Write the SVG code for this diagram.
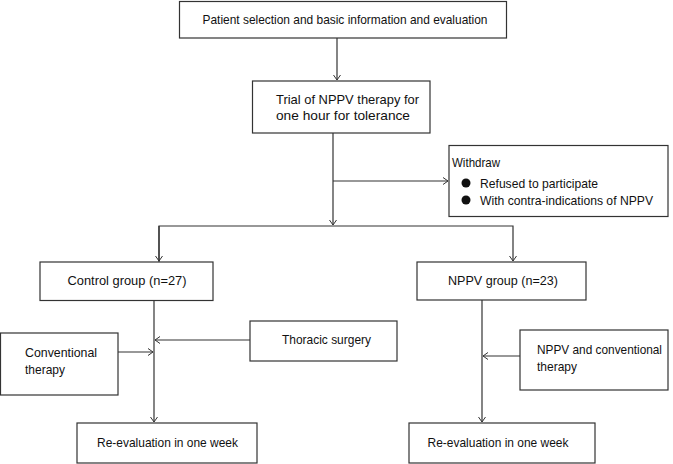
<svg xmlns="http://www.w3.org/2000/svg" width="673" height="464" viewBox="0 0 673 464">
<defs>
<marker id="arr" markerUnits="userSpaceOnUse" markerWidth="10" markerHeight="10" viewBox="-6 -5 8 10" refX="0" refY="0" orient="auto">
<path d="M-5,-3.5 L0,0 L-5,3.5" fill="none" stroke="#333" stroke-width="1"/>
</marker>
</defs>
<style>
rect{fill:#fff;stroke:#333;stroke-width:1.2}
text{font-family:"Liberation Sans",Arial,sans-serif;font-size:13px;fill:#111}
.c{text-anchor:middle}
#connectors path{fill:none;stroke:#333;stroke-width:1.2}
</style>
<rect width="673" height="464" style="stroke:none"/>
<g id="connectors">
<path d="M337,38 V80" marker-end="url(#arr)"/>
<path d="M333,133 V225" marker-end="url(#arr)"/>
<path d="M333,181 H448" marker-end="url(#arr)"/>
<path d="M159,262 V226 H513 V261" marker-end="url(#arr)"/>
<path d="M159,226 V261" marker-end="url(#arr)"/>
<path d="M154,301 V422" marker-end="url(#arr)"/>
<path d="M250,340 H155" marker-end="url(#arr)"/>
<path d="M118,352 H153" marker-end="url(#arr)"/>
<path d="M482,300 V422" marker-end="url(#arr)"/>
<path d="M520,356 H483" marker-end="url(#arr)"/>
</g>
<g id="n1"><rect x="179.5" y="1.5" width="327" height="36.5"/><text class="c" x="345" y="23.5" textLength="285" lengthAdjust="spacingAndGlyphs">Patient selection and basic information and evaluation</text></g>
<g id="n2"><rect x="252.5" y="81" width="177.5" height="52"/><text x="276" y="103.5" textLength="143" lengthAdjust="spacingAndGlyphs">Trial of NPPV therapy for</text><text x="276" y="120" textLength="134" lengthAdjust="spacingAndGlyphs">one hour for tolerance</text></g>
<g id="withdraw"><rect x="449" y="145.5" width="219" height="71"/><text x="452" y="167" textLength="48" lengthAdjust="spacingAndGlyphs">Withdraw</text><circle cx="466" cy="183" r="4.5" fill="#111"/><circle cx="466" cy="200" r="4.5" fill="#111"/><text x="480" y="187.5" textLength="118" lengthAdjust="spacingAndGlyphs">Refused to participate</text><text x="480" y="204.5" textLength="173" lengthAdjust="spacingAndGlyphs">With contra-indications of NPPV</text></g>
<g id="control"><rect x="40" y="262" width="173" height="38.5"/><text class="c" x="127" y="285" textLength="119" lengthAdjust="spacingAndGlyphs">Control group (n=27)</text></g>
<g id="nppv"><rect x="417" y="262" width="169" height="38"/><text class="c" x="503" y="285" textLength="110" lengthAdjust="spacingAndGlyphs">NPPV group (n=23)</text></g>
<g id="thoracic"><rect x="250" y="321" width="147" height="40"/><text class="c" x="326.5" y="344" textLength="89" lengthAdjust="spacingAndGlyphs">Thoracic surgery</text></g>
<g id="conventional"><rect x="0.5" y="333" width="117.5" height="62"/><text x="25" y="356.5" textLength="72" lengthAdjust="spacingAndGlyphs">Conventional</text><text x="25" y="373.5" textLength="40" lengthAdjust="spacingAndGlyphs">therapy</text></g>
<g id="nppvconv"><rect x="520" y="330" width="148" height="60"/><text x="537" y="353.5" textLength="125" lengthAdjust="spacingAndGlyphs">NPPV and conventional</text><text x="537" y="370.5" textLength="40" lengthAdjust="spacingAndGlyphs">therapy</text></g>
<g id="reeval1"><rect x="77" y="423" width="180" height="40"/><text class="c" x="167.5" y="447" textLength="141" lengthAdjust="spacingAndGlyphs">Re-evaluation in one week</text></g>
<g id="reeval2"><rect x="409" y="423" width="186" height="40"/><text class="c" x="498" y="447" textLength="141" lengthAdjust="spacingAndGlyphs">Re-evaluation in one week</text></g>
</svg>
